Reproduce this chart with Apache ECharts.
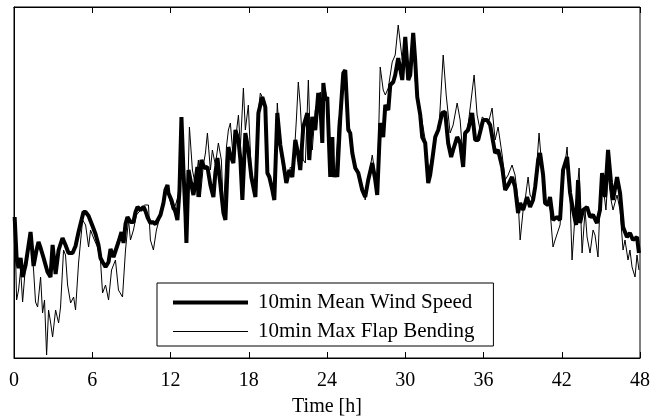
<!DOCTYPE html>
<html>
<head>
<meta charset="utf-8">
<script src="https://cdn.jsdelivr.net/npm/echarts@6/dist/echarts.min.js"></script>
<style>
  html, body { margin: 0; padding: 0; background: #fff; }
  #chart { width: 651px; height: 418px; }
</style>
</head>
<body>
<div id="chart"></div>
<script>
// hours and relative level (arbitrary units)
const meanHours = [0.05,0.20,0.35,0.51,0.66,0.89,1.12,1.27,1.50,1.73,1.88,2.04,2.27,2.42,2.57,2.80,2.96,3.19,3.42,3.72,3.95,4.18,4.49,4.72,4.95,5.10,5.33,5.49,5.72,6.02,6.25,6.48,6.63,6.79,7.02,7.25,7.40,7.63,7.78,8.01,8.24,8.40,8.55,8.70,8.93,9.16,9.32,9.47,9.70,9.93,10.08,10.23,10.46,10.62,10.85,11.00,11.23,11.46,11.61,11.77,11.84,12.07,12.23,12.38,12.53,12.69,12.84,12.99,13.15,13.22,13.38,13.53,13.76,13.91,14.06,14.14,14.37,14.60,14.83,15.06,15.29,15.44,15.60,15.83,16.06,16.21,16.44,16.59,16.82,16.98,17.21,17.36,17.51,17.74,17.97,18.20,18.51,18.74,19.04,19.27,19.43,19.58,19.81,19.96,20.19,20.42,20.65,20.88,21.11,21.34,21.57,21.80,21.95,22.18,22.49,22.64,22.87,23.10,23.33,23.49,23.64,23.72,23.87,24.02,24.25,24.41,24.48,24.64,24.79,25.02,25.25,25.40,25.63,25.78,25.94,26.17,26.40,26.70,26.93,27.16,27.47,27.70,27.85,28.08,28.31,28.47,28.70,28.85,29.08,29.23,29.46,29.77,30.00,30.23,30.38,30.61,30.76,30.92,31.15,31.30,31.53,31.76,31.91,32.07,32.30,32.53,32.83,33.06,33.29,33.52,33.67,33.98,34.21,34.44,34.59,34.82,35.13,35.36,35.59,35.74,35.97,36.28,36.51,36.66,36.89,37.12,37.43,37.66,37.89,38.19,38.42,38.65,38.81,39.04,39.34,39.57,39.80,39.96,40.19,40.34,40.57,40.72,40.95,41.10,41.33,41.64,41.87,42.10,42.41,42.64,42.87,43.10,43.25,43.40,43.63,43.94,44.17,44.40,44.70,44.93,45.09,45.32,45.55,45.78,45.93,46.24,46.47,46.70,47.00,47.23,47.46,47.77,47.92];
const meanLevel = [141,100,90,100,81,93,113,126,92,108,116,110,100,98,86,81,113,84,108,120,113,105,105,112,126,134,146,146,142,132,124,113,100,96,91,96,109,101,100,116,126,115,134,141,136,136,146,151,148,151,147,141,135,136,134,135,143,155,168,173,165,158,151,146,138,168,241,188,143,115,188,178,163,176,191,161,198,190,191,173,161,185,200,173,145,138,211,203,195,228,218,198,158,225,208,181,161,245,261,251,185,181,168,158,245,213,195,175,188,181,218,203,188,231,245,198,241,228,265,253,215,275,258,261,181,221,181,188,181,241,285,288,228,225,205,190,185,168,161,178,195,178,163,235,221,253,248,273,276,283,300,278,321,278,283,325,298,261,243,221,215,175,183,198,221,228,245,246,215,201,208,221,215,191,225,228,245,218,218,216,238,238,233,231,205,208,191,168,173,181,171,145,155,148,161,151,158,171,198,205,183,155,153,161,138,141,138,188,201,165,148,133,178,135,148,151,141,143,135,148,185,161,208,175,158,181,165,131,121,125,118,121,105];

const maxHours = [0.05,0.20,0.35,0.51,0.66,0.89,1.04,1.27,1.50,1.65,1.81,2.04,2.19,2.34,2.50,2.65,2.80,2.96,3.19,3.42,3.57,3.80,3.95,4.11,4.34,4.57,4.72,4.95,5.26,5.49,5.64,5.72,5.87,6.10,6.40,6.63,6.79,7.02,7.25,7.48,7.78,8.01,8.32,8.55,8.78,8.93,9.16,9.39,9.70,10.00,10.31,10.46,10.69,10.92,11.23,11.38,11.61,11.84,12.15,12.38,12.61,12.84,12.99,13.22,13.45,13.68,13.91,14.14,14.29,14.52,14.68,14.83,15.06,15.21,15.44,15.67,15.90,16.06,16.29,16.44,16.59,16.82,16.98,17.21,17.36,17.59,17.74,17.97,18.20,18.51,18.74,18.89,19.04,19.27,19.43,19.66,19.96,20.19,20.42,20.65,20.96,21.19,21.42,21.65,21.80,21.95,22.18,22.34,22.57,22.72,22.87,23.10,23.33,23.49,23.64,23.87,24.02,24.25,24.48,24.64,24.87,25.10,25.25,25.40,25.63,25.78,26.01,26.17,26.40,26.70,26.93,27.16,27.47,27.70,27.85,28.08,28.31,28.47,28.70,29.00,29.23,29.46,29.77,30.00,30.23,30.38,30.61,30.76,30.92,31.15,31.38,31.53,31.76,31.91,32.14,32.37,32.60,32.91,33.14,33.44,33.67,33.98,34.21,34.44,34.59,34.82,35.05,35.28,35.51,35.74,35.90,36.20,36.43,36.66,36.89,37.12,37.43,37.66,37.89,38.19,38.42,38.65,38.81,39.04,39.19,39.42,39.57,39.80,40.03,40.26,40.49,40.72,40.95,41.10,41.33,41.49,41.64,41.87,42.10,42.41,42.64,42.79,43.02,43.33,43.56,43.79,43.94,44.17,44.40,44.55,44.78,44.93,45.16,45.39,45.55,45.78,45.93,46.24,46.47,46.70,46.85,47.08,47.23,47.39,47.62,47.77,47.92];
const maxLevel = [141,58,68,88,56,93,100,122,88,56,51,81,45,58,3,48,36,21,48,35,51,108,103,73,55,61,48,95,138,133,131,111,128,120,111,98,65,73,58,88,98,68,61,108,138,118,128,143,148,153,153,118,108,128,143,155,168,163,148,153,163,198,188,115,231,188,173,198,161,193,205,225,188,208,193,215,198,145,211,228,235,198,218,243,211,270,228,253,183,163,248,265,266,254,188,173,158,255,208,188,175,191,188,238,276,253,198,195,278,218,208,248,258,266,218,268,258,208,193,183,238,248,283,288,233,228,198,193,183,173,158,178,203,183,163,291,268,263,270,296,303,333,298,318,280,288,325,278,261,248,230,218,188,193,208,223,233,303,263,225,233,255,238,198,223,233,258,283,243,228,241,238,238,250,218,231,203,178,183,193,183,158,118,148,158,181,163,158,183,225,188,158,156,148,111,118,118,133,178,211,158,98,143,190,105,148,121,105,128,123,101,153,173,148,183,158,148,163,148,108,118,98,108,91,81,103,88];

const hourTicks = [0, 6, 12, 18, 24, 30, 36, 42, 48];

const serif = "'Liberation Serif', 'Times New Roman', serif";
const pair = (hs, vs) => hs.map((h, i) => [h, vs[i]]);
// legend swatch: a bar of given thickness centred in a 75x14 box
const bar = h => 'path://M0,0h0.01v0.01h-0.01z M0,' + (7 - h / 2) + 'H75V' + (7 + h / 2) + 'H0Z M74.99,13.99h0.01v0.01h-0.01z';

const chart = echarts.init(document.getElementById('chart'));
chart.setOption({
  animation: false,
  backgroundColor: '#fff',
  grid: {
    left: 14, right: 11, top: 7, bottom: 60,
    containLabel: false,
    outerBoundsMode: 'none',
    show: true, borderColor: '#000', borderWidth: 1
  },
  legend: {
    orient: 'vertical',
    left: 157, top: 283,
    padding: [9, 19, 4, 16],
    itemGap: 8,
    itemWidth: 75,
    itemHeight: 14,
    borderColor: '#000',
    borderWidth: 1,
    backgroundColor: '#fff',
    textStyle: { fontFamily: serif, fontSize: 21, color: '#000', width: 220, padding: [0, 0, 0, 5] },
    data: [
      { name: '10min Mean Wind Speed', icon: bar(4), itemStyle: { color: '#000' } },
      { name: '10min Max Flap Bending', icon: bar(1), itemStyle: { color: '#000' } }
    ]
  },
  xAxis: [
    {
      type: 'value', min: 0, max: 48, interval: 6,
      position: 'bottom',
      name: 'Time [h]', nameLocation: 'middle', nameGap: 39,
      nameTextStyle: { fontFamily: serif, fontSize: 20, color: '#000' },
      axisLine: { lineStyle: { color: '#000', width: 1 } },
      axisTick: { inside: true, length: 6, lineStyle: { color: '#000' } },
      axisLabel: {
        fontFamily: serif, fontSize: 20, color: '#000', margin: 13,
        formatter: v => hourTicks.includes(v) ? String(v) : ''
      },
      splitLine: { show: false }
    },
    {
      type: 'value', min: 0, max: 48, interval: 6,
      position: 'top',
      axisLine: { lineStyle: { color: '#000', width: 1 } },
      axisTick: { inside: true, length: 6, lineStyle: { color: '#000' } },
      axisLabel: { show: false },
      splitLine: { show: false }
    }
  ],
  yAxis: {
    type: 'value', min: 0, max: 351,
    axisLine: { show: true, lineStyle: { color: '#000' } },
    axisTick: { show: false },
    axisLabel: { show: false },
    splitLine: { show: false }
  },
  series: [
    {
      name: '10min Mean Wind Speed',
      type: 'line',
      data: pair(meanHours, meanLevel),
      symbol: 'none',
      lineStyle: { color: '#000', width: 4 },
      itemStyle: { color: '#000' }
    },
    {
      name: '10min Max Flap Bending',
      type: 'line',
      data: pair(maxHours, maxLevel),
      symbol: 'none',
      lineStyle: { color: '#000', width: 1 },
      itemStyle: { color: '#000' }
    }
  ]
});
</script>
</body>
</html>
